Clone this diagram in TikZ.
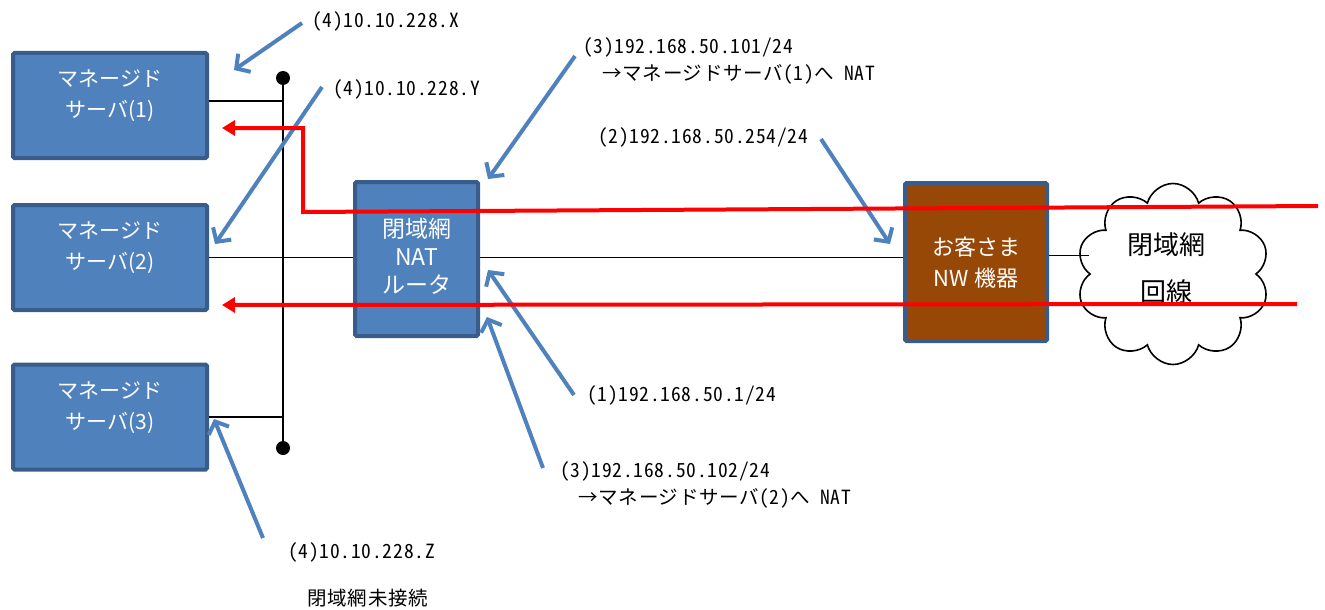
\documentclass[tikz,border=0pt]{standalone}
\usepackage{fontspec}
\usetikzlibrary{arrows.meta,shapes.symbols}
\setmainfont{Noto Sans CJK JP}
\newfontfamily\boxfont{Noto Sans CJK JP}
\newfontfamily\lblfont[RawFeature=+hwid,LetterSpace=4]{Noto Sans CJK JP}
\newfontfamily\lbljp[LetterSpace=4]{Noto Sans CJK JP}
\newcommand\jp[1]{{\lbljp #1}}
\definecolor{boxblue}{HTML}{4F81BD}
\definecolor{boxborder}{HTML}{385D8A}
\definecolor{custbrown}{HTML}{974706}
\definecolor{arrblue}{HTML}{4F81BD}
\definecolor{netred}{HTML}{FF0000}
\begin{document}
\begin{tikzpicture}[x=1pt,y=-1pt,
  srv/.style={draw=boxborder, fill=boxblue, line width=4pt, rounded corners=1.5pt,
    minimum width=194pt, minimum height=105pt, inner sep=0pt},
  srvtext/.style={text=white, align=center, inner sep=0pt,
    font=\boxfont\fontsize{21}{31}\selectfont},
  rtr/.style={draw=boxborder, fill=boxblue, line width=4pt, rounded corners=1.5pt,
    minimum width=123pt, minimum height=154pt, inner sep=0pt},
  rtrtext/.style={text=white, align=center, inner sep=0pt,
    font=\boxfont\fontsize{23}{28}\selectfont},
  cust/.style={draw=boxborder, fill=custbrown, line width=4pt, rounded corners=1.5pt,
    minimum width=142pt, minimum height=158pt, inner sep=0pt},
  custtext/.style={text=white, align=center, inner sep=0pt,
    font=\boxfont\fontsize{22}{31}\selectfont},
  cloudbox/.style={cloud, cloud puffs=10, cloud ignores aspect, draw=black, fill=white,
    line width=1.6pt, minimum width=193pt, minimum height=181pt, inner sep=0pt},
  cloudtext/.style={align=center, inner sep=0pt,
    font=\boxfont\fontsize{26}{47}\selectfont},
  dot/.style={circle, fill=black, minimum size=14pt, inner sep=0pt},
  wire/.style={draw=black, line width=1.8pt},
  redline/.style={draw=netred, line width=4pt, -{Triangle[length=13pt,width=15pt]}},
  callout/.style={draw=arrblue, line width=4pt, -{Straight Barb[length=10pt,width=22pt]}},
  lbl/.style={anchor=west, inner sep=0pt, align=left,
    font=\lblfont\fontsize{19.5}{27.5}\selectfont},
]
\useasboundingbox (0,0) rectangle (1325,610);

% servers
\node[srv] (s1) at (110,105.5) {};
\node[srv] (s2) at (110,257.5) {};
\node[srv] (s3) at (110,417) {};
\node[srvtext] (s1t) at ([yshift=9.5pt]s1.center) {マネージド\\サーバ(1)};
\node[srvtext] (s2t) at ([yshift=9.5pt]s2.center) {マネージド\\サーバ(2)};
\node[srvtext] (s3t) at ([yshift=9.5pt]s3.center) {マネージド\\サーバ(3)};

% router and customer device
\node[rtr] (r) at (416.5,259) {};
\node[rtrtext] (rt) at ([yshift=3pt]r.center) {閉域網\\NAT\\ルータ};
\node[cust] (c) at (976,262) {};
\node[custtext] (ct) at ([yshift=-1pt]c.center) {お客さま\\NW 機器};

% cloud
\node[cloudbox] (cl) at (1173,274) {};
\node[cloudtext] (clt) at (1166,268.5) {閉域網\\回線};

% bus
\node[dot] (d1) at (283,78) {};
\node[dot] (d2) at (283,448) {};
\draw[wire] (d1.center) -- (d2.center);
\draw[wire] ([yshift=4.5pt]s1.east) -- ([yshift=4.5pt]s1.east -| d1.center);
\draw[wire] (s2.east) -- (s2.east -| r.west);
\draw[wire] (s3.east) -- (s3.east -| d2.center);
\draw[wire] ([yshift=1.5pt]r.east) -- ([yshift=1.5pt]r.east -| c.west);
\draw[wire] ([yshift=6.5pt]c.east) -- ([yshift=6.5pt]c.east -| cl.west);

% labels
\node[lbl] (lX) at (312,21) {(4)10.10.228.X};
\node[lbl] (lY) at (333,89) {(4)10.10.228.Y};
\node[lbl] (l101) at (583,61) {(3)192.168.50.101/24\\\hspace*{19pt}\jp{→マネージドサーバ}(1)\jp{へ} NAT};
\node[lbl] (l254) at (598,137) {(2)192.168.50.254/24};
\node[lbl] (l1) at (587,395) {(1)192.168.50.1/24};
\node[lbl] (l102) at (560,485) {(3)192.168.50.102/24\\\hspace*{18pt}\jp{→マネージドサーバ}(2)\jp{へ} NAT};
\node[lbl] (lZ) at (288,552) {(4)10.10.228.Z};
\node[lbl] (lnc) at (307,598) {\jp{閉域網未接続}};

% callout arrows
\coordinate (aX0) at (302,23);   \coordinate (aX1) at (234,70);
\coordinate (aY0) at (322,87);   \coordinate (aY1) at (215,244);
\coordinate (a10) at (575,56);   \coordinate (a11) at (488,179);
\coordinate (a20) at (821,139);  \coordinate (a21) at (890,244);
\coordinate (a30) at (574,395);  \coordinate (a31) at (488,270);
\coordinate (a40) at (543,468);  \coordinate (a41) at (487,317);
\coordinate (aZ0) at (263,538);  \coordinate (aZ1) at (214,419);
\draw[callout] (aX0) -- (aX1);
\draw[callout] (aY0) -- (aY1);
\draw[callout] (a10) -- (a11);
\draw[callout] (a20) -- (a21);
\draw[callout] (a30) -- (a31);
\draw[callout] (a40) -- (a41);
\draw[callout] (aZ0) -- (aZ1);

% red traffic lines
\coordinate (ra) at (1318,206);
\coordinate (rb) at (303,212);
\coordinate (rc) at (303,128);
\coordinate (rd) at (222,128);
\coordinate (re) at (1297,304);
\coordinate (rf) at (222,305);
\draw[redline] (ra) -- (rb) -- (rc) -- (rd);
\draw[redline] (re) -- (rf);
\end{tikzpicture}
\end{document}
